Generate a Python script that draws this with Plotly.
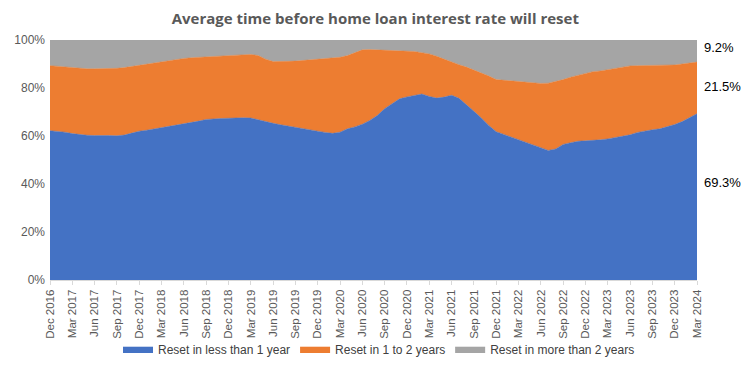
import pandas as pd
import plotly.graph_objects as go

months = [d.strftime("%b %Y") for d in pd.date_range("2016-12-01", "2024-03-01", freq="MS")]

less_1y = [62.2, 62.0, 61.6, 61.0, 60.5, 60.3, 60.2, 60.3, 60.2, 60.1,
           60.4, 61.2, 62.0, 62.4, 62.9, 63.4, 64.0, 64.6, 65.0, 65.6,
           66.2, 66.9, 67.2, 67.3, 67.4, 67.6, 67.6, 67.5, 66.7, 65.8,
           65.3, 64.7, 64.1, 63.7, 63.1, 62.5, 62.0, 61.5, 61.1, 61.6,
           63.0, 63.8, 64.9, 66.5, 68.5, 71.4, 73.4, 75.5, 76.3, 77.0,
           77.5, 76.5, 75.8, 76.2, 77.0, 75.7, 73.2, 70.3, 67.5, 64.4,
           61.8, 60.7, 59.7, 58.6, 57.5, 56.3, 55.0, 54.0, 54.6, 56.5,
           57.2, 57.8, 58.0, 58.1, 58.4, 58.8, 59.4, 59.8, 60.5, 61.5,
           62.2, 62.6, 63.0, 63.8, 64.8, 66.0, 67.5, 69.3]

one_to_2y = [27.1, 27.0, 27.1, 27.4, 27.7, 27.7, 27.8, 27.7, 27.9, 28.1,
             28.1, 27.8, 27.5, 27.5, 27.4, 27.3, 27.2, 27.2, 27.3, 27.0,
             26.6, 26.1, 25.8, 25.8, 26.1, 26.2, 26.3, 26.5, 26.8, 26.2,
             25.7, 26.2, 27.0, 27.5, 28.4, 29.2, 30.0, 30.8, 31.4, 31.2,
             30.5, 31.0, 31.0, 29.5, 27.4, 24.4, 22.2, 20.0, 19.1, 18.2,
             17.2, 17.7, 17.4, 15.8, 13.7, 14.0, 15.5, 17.2, 19.0, 20.6,
             21.7, 22.5, 23.3, 24.1, 24.9, 25.8, 26.9, 28.0, 28.0, 27.0,
             27.3, 27.5, 28.3, 28.7, 28.7, 28.8, 28.9, 29.1, 28.7, 27.8,
             27.1, 26.7, 26.3, 25.6, 24.8, 24.0, 22.9, 21.5]

more_2y = [10.7, 11.0, 11.3, 11.6, 11.8, 12.0, 12.0, 12.0, 11.9, 11.8,
           11.5, 11.0, 10.5, 10.1, 9.7, 9.3, 8.8, 8.2, 7.7, 7.4,
           7.2, 7.0, 7.0, 6.9, 6.5, 6.2, 6.1, 6.0, 6.5, 8.0,
           9.0, 9.1, 8.9, 8.8, 8.5, 8.3, 8.0, 7.7, 7.5, 7.2,
           6.5, 5.2, 4.1, 4.0, 4.1, 4.2, 4.4, 4.5, 4.6, 4.8,
           5.3, 5.8, 6.8, 8.0, 9.3, 10.3, 11.3, 12.5, 13.5, 15.0,
           16.5, 16.8, 17.0, 17.3, 17.6, 17.9, 18.1, 18.0, 17.4, 16.5,
           15.5, 14.7, 13.7, 13.2, 12.9, 12.4, 11.7, 11.1, 10.8, 10.7,
           10.7, 10.7, 10.7, 10.6, 10.4, 10.0, 9.6, 9.2]

series_names = ["Reset in less than 1 year", "Reset in 1 to 2 years", "Reset in more than 2 years"]
colors = ["#4472C4", "#ED7D31", "#A5A5A5"]
end_labels = ["69.3%", "21.5%", "9.2%"]
end_label_y = [40.5, 80.5, 97.0]
tick_labels = months[::3]
y_ticks = [0, 20, 40, 60, 80, 100]
y_ticktext = ["0%", "20%", "40%", "60%", "80%", "100%"]

fig = go.Figure()
for name, vals, col in zip(series_names, [less_1y, one_to_2y, more_2y], colors):
    fig.add_trace(go.Scatter(
        x=months, y=vals, name=name, mode="lines", stackgroup="one",
        line=dict(width=0.5, color=col), fillcolor=col,
        hoverinfo="x+y+name",
    ))

for txt, yv in zip(end_labels, end_label_y):
    fig.add_annotation(x=1, xref="paper", xanchor="left", xshift=5,
                       y=yv, yref="y", text=txt, showarrow=False,
                       font=dict(size=13, color="#000000", family="Liberation Sans, Arial"))

# page body has an 8px default margin, so the figure is sized/offset to compensate
fig.update_layout(
    width=742, height=357,
    margin=dict(l=42, r=53, t=32, b=85, autoexpand=False),
    paper_bgcolor="white", plot_bgcolor="white",
    title=dict(text="<b>Average time before home loan interest rate will reset</b>",
               x=0.495, xref="container", xanchor="center", y=0.97, yanchor="middle",
               font=dict(size=15, color="#595959", family="Open Sans, Lato, sans-serif")),
    legend=dict(orientation="h", x=0.5, xref="container", xanchor="center",
                y=0.045, yref="container", yanchor="middle",
                font=dict(size=12, color="#404040", family="Liberation Sans, Arial"),
                itemwidth=30, traceorder="normal", bgcolor="rgba(0,0,0,0)"),
    showlegend=True,
)
fig.update_xaxes(type="category", tickmode="array", tickvals=tick_labels, ticktext=tick_labels,
                 tickangle=-90, ticks="outside", ticklen=4, tickcolor="#D9D9D9",
                 showline=True, linecolor="#D9D9D9", showgrid=False, automargin=False,
                 tickfont=dict(size=11.5, color="#595959", family="Liberation Sans, Arial"),
                 range=[0, len(months) - 1], fixedrange=True)
fig.update_yaxes(range=[0, 100], tickmode="array", tickvals=y_ticks, ticktext=y_ticktext,
                 showgrid=False, zeroline=False, showline=False, automargin=False,
                 tickfont=dict(size=12, color="#595959", family="Liberation Sans, Arial"),
                 ticklabelstandoff=4)

fig.write_html("out.html")
